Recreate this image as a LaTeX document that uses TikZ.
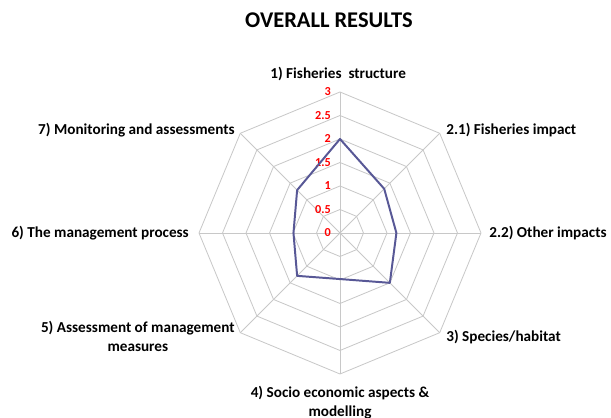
\documentclass[tikz,border=0pt]{standalone}
\usepackage{fontspec}
\setmainfont{Carlito}
\usepackage{tikz}

\definecolor{gridgray}{RGB}{200,200,200}
\definecolor{scoreblue}{RGB}{88,88,150}

\tikzset{
  axislabel/.style={font=\fontsize{9.2}{11.5}\selectfont\bfseries, inner sep=0pt},
  ticklabel/.style={font=\fontsize{7.4}{8}\selectfont\bfseries, text=red, inner sep=0pt, anchor=east}
}

\begin{document}
\begin{tikzpicture}
\useasboundingbox (-7.234,-3.936) rectangle (5.766,4.957);

% Title
\node (title) at (-0.234,4.53) {\fontsize{13.6}{16}\selectfont\bfseries OVERALL RESULTS};

% Grid: rings and spokes
\foreach \r in {0.5,1,...,3}
  \draw[gridgray, line width=0.5pt] (90:\r) -- (45:\r) -- (0:\r) -- (-45:\r) -- (-90:\r) -- (-135:\r) -- (180:\r) -- (135:\r) -- cycle;
\foreach \a in {90,45,0,-45,-90,-135,180,135}
  \draw[gridgray, line width=0.5pt] (0,0) -- (\a:3);

% Scale
\node[ticklabel] (t0) at (-0.19,0) {0};
\node[ticklabel] (t05) at (-0.19,0.5) {0.5};
\node[ticklabel] (t1) at (-0.19,1) {1};
\node[ticklabel] (t15) at (-0.19,1.5) {1.5};
\node[ticklabel] (t2) at (-0.19,2) {2};
\node[ticklabel] (t25) at (-0.19,2.5) {2.5};
\node[ticklabel] (t3) at (-0.19,3) {3};

% Scores
\draw[scoreblue, line width=1.2pt, line join=round] (90:2) -- (45:1.33) -- (0:1.2) -- (-45:1.5) -- (-90:0.98) -- (-135:1.29) -- (180:0.99) -- (135:1.29) -- cycle;

% Axis labels
\node[axislabel] (fstruct) at (-0.04,3.38) {1) Fisheries\ \ structure};
\node[axislabel, anchor=west] (fimpact) at (2.255,2.19) {2.1) Fisheries impact};
\node[axislabel, anchor=west] (oimpact) at (3.17,0) {2.2) Other impacts};
\node[axislabel, anchor=west] (species) at (2.255,-2.21) {3) Species/habitat};
\node[axislabel, align=center] (socio) at (0,-3.61) {4) Socio economic aspects \&\\modelling};
\node[axislabel, align=center, anchor=east] (assess) at (-2.234,-2.21) {5) Assessment of management\\measures};
\node[axislabel, anchor=east] (mgmt) at (-3.21,0) {6) The management process};
\node[axislabel, anchor=east] (monitor) at (-2.234,2.19) {7) Monitoring and assessments};

\end{tikzpicture}
\end{document}
